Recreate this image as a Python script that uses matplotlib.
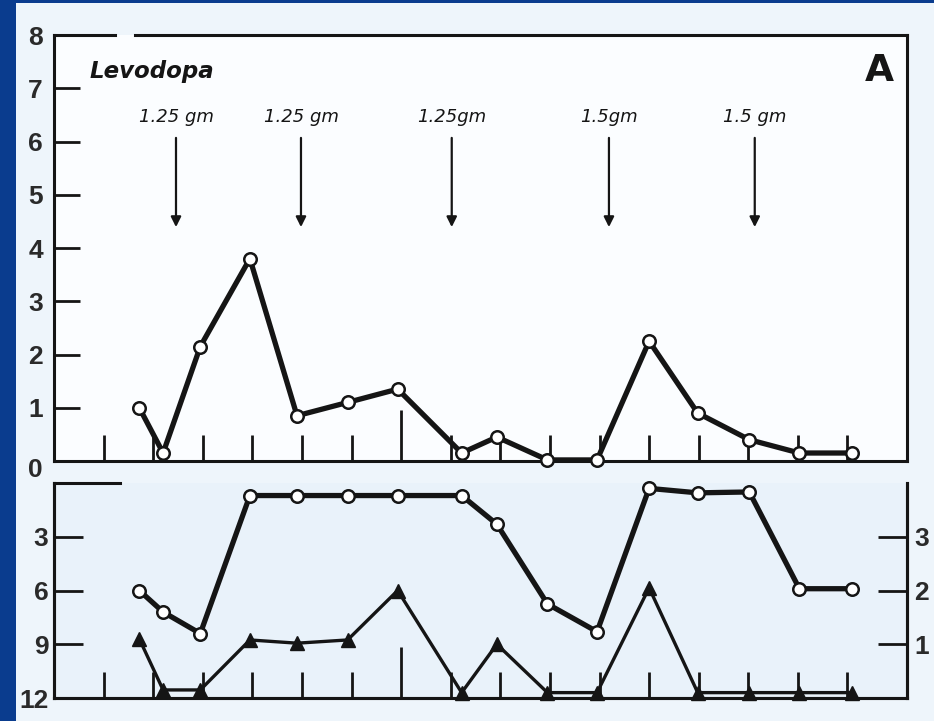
import matplotlib
matplotlib.use('Agg')
import matplotlib.pyplot as plt
from matplotlib.patches import Rectangle

# time points (hours), shared by all three series
hours = [1.72, 2.2, 2.95, 3.95, 4.9, 5.92, 6.93, 8.22, 8.93, 9.95, 10.95, 12.0, 12.98, 14.02, 15.03, 16.1]
levodopa = [1.0, 0.15, 2.15, 3.8, 0.85, 1.1, 1.35, 0.15, 0.45, 0.02, 0.02, 2.25, 0.9, 0.4, 0.15, 0.15]
score_circles = [6.0, 7.2, 8.4, 0.7, 0.7, 0.7, 0.7, 0.7, 2.3, 6.75, 8.3, 0.3, 0.55, 0.5, 5.9, 5.9]
score_triangles = [1.1, 0.15, 0.15, 1.08, 1.02, 1.08, 2.0, 0.1, 1.0, 0.1, 0.1, 2.05, 0.1, 0.1, 0.1, 0.1]

dose_hours = [2.46, 4.98, 8.02, 11.19, 14.13]
dose_labels = ['1.25 gm', '1.25 gm', '1.25gm', '1.5gm', '1.5 gm']

ink = '#151515'
W, H = 934, 721

fig = plt.figure(figsize=(W / 100, H / 100), dpi=100, facecolor='#0a3c8e')
fig.patches.append(Rectangle((16 / W, 0), 1 - 16 / W, 1 - 3 / H, transform=fig.transFigure,
                             facecolor='#eef5fb', edgecolor='none', zorder=-10))

ax1 = fig.add_axes([54 / W, 1 - 461 / H, (907 - 54) / W, (461 - 35) / H])
ax2 = fig.add_axes([54 / W, 1 - 698 / H, (907 - 54) / W, (698 - 483) / H])
ax1.set_facecolor('#fbfdff')
ax2.set_facecolor('#e9f2fa')

tick_font = dict(family='Liberation Sans', size=19, weight='bold')

# ---- top panel: levodopa
ax1.plot(hours, levodopa, color=ink, lw=3.8, marker='o', ms=9, mfc='white', mec=ink,
         mew=1.8, clip_on=False, zorder=5)
ax1.set_xlim(0, 17.2)
ax1.set_ylim(0, 8)
ax1.set_yticks(range(1, 9))
ax1.set_yticklabels([str(v) for v in range(1, 9)], fontdict=tick_font, color='#2a2a2a')
ax1.tick_params(axis='y', direction='in', length=19, width=2, color=ink, pad=8)

for d, lab in zip(dose_hours, dose_labels):
    ax1.annotate('', xy=(d, 4.34), xytext=(d, 6.12),
                 arrowprops=dict(arrowstyle='-|>', lw=1.6, color=ink, mutation_scale=15))
    ax1.text(d, 6.46, lab, ha='center', va='center', fontsize=13, style='italic', color=ink)

ax1.text(0.042, 0.915, 'Levodopa', transform=ax1.transAxes, fontsize=16.5, style='italic',
         weight='bold', color=ink, ha='left', va='center')
ax1.text(0.984, 0.915, 'A', transform=ax1.transAxes, fontsize=27, weight='bold', color=ink,
         ha='right', va='center')

# top spine has a small break in the scan
ax1.spines['top'].set_visible(False)
ax1.plot([0, 0.072], [1, 1], transform=ax1.transAxes, color=ink, lw=2.2, clip_on=False)
ax1.plot([0.095, 1], [1, 1], transform=ax1.transAxes, color=ink, lw=2.2, clip_on=False)

# ---- bottom panel: disability scores
ax2.plot(hours, score_circles, color=ink, lw=3.8, marker='o', ms=9, mfc='white', mec=ink,
         mew=1.8, clip_on=False, zorder=5)
ax2.set_xlim(0, 17.2)
ax2.set_ylim(12, 0)
ax2.set_yticks([3, 6, 9, 12])
ax2.set_yticklabels(['3', '6', '9', '12'], fontdict=tick_font, color='#2a2a2a')
ax2.tick_params(axis='y', direction='in', length=21, width=2, color=ink, pad=4)
ax2.spines['top'].set_visible(False)
ax2.plot([0, 0.077], [1, 1], transform=ax2.transAxes, color=ink, lw=2.2, clip_on=False)
fig.text(43 / W, 1 - 470 / H, '0', ha='right', va='center', color='#2a2a2a', **tick_font)

ax3 = ax2.twinx()
ax3.plot(hours, score_triangles, color=ink, lw=2.4, marker='^', ms=10, clip_on=False, zorder=5)
ax3.set_xlim(0, 17.2)
ax3.set_ylim(0, 4)
ax3.set_yticks([1, 2, 3])
ax3.set_yticklabels(['1', '2', '3'], fontdict=tick_font, color='#2a2a2a')
ax3.tick_params(axis='y', direction='in', length=21, width=2, color=ink, pad=5)
ax3.spines['top'].set_visible(False)

for ax in (ax1, ax2):
    ax.set_xticks([7])
    ax.set_xticks([k for k in range(1, 17) if k != 7], minor=True)
    ax.tick_params(axis='x', which='major', direction='in', length=37, width=2, color=ink,
                   labelbottom=False)
    ax.tick_params(axis='x', which='minor', direction='in', length=19, width=2, color=ink)
    for s in ('left', 'right', 'bottom'):
        ax.spines[s].set_linewidth(2.2)
        ax.spines[s].set_color(ink)
for s in ('left', 'right', 'bottom'):
    ax3.spines[s].set_linewidth(2.2)
    ax3.spines[s].set_color(ink)

fig.savefig('out.png', dpi=100, facecolor=fig.get_facecolor())
